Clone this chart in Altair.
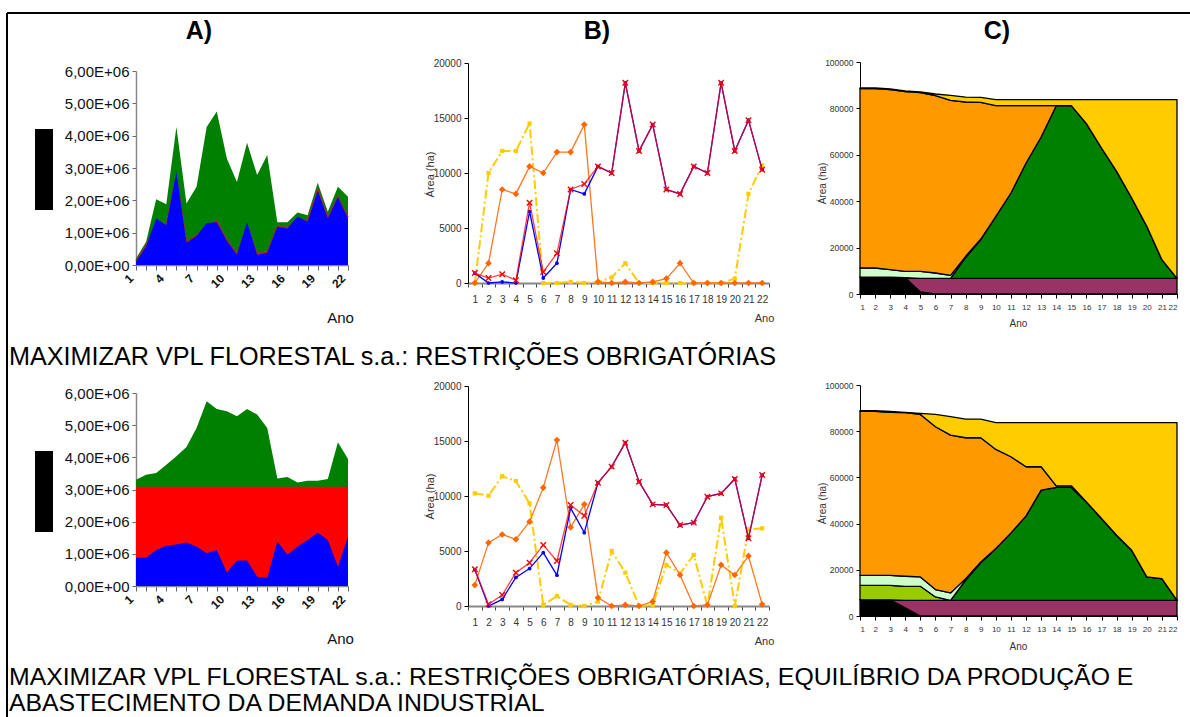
import altair as alt
import pandas as pd

W, H = 1190, 717
anos = list(range(1, 23))

# ---------- A) valores (x 1.000.000) ----------
a1_verde = [0.20, 0.72, 2.03, 1.88, 4.27, 1.90, 2.42, 4.27, 4.75, 3.29, 2.57,
            3.78, 2.78, 3.40, 1.32, 1.32, 1.62, 1.54, 2.54, 1.65, 2.42, 2.11]
a1_vermelho = [0.12, 0.62, 1.32, 1.26, 2.75, 0.72, 0.93, 1.14, 1.38, 0.78, 0.35,
               1.22, 0.36, 0.42, 1.20, 1.16, 1.42, 1.38, 2.36, 1.48, 2.12, 1.48]
a1_azul = [0.10, 0.57, 1.44, 1.23, 2.88, 0.69, 0.90, 1.30, 1.32, 0.75, 0.32,
           1.32, 0.32, 0.38, 1.18, 1.13, 1.50, 1.34, 2.30, 1.44, 2.10, 1.44]

a2_verde = [3.30, 3.46, 3.51, 3.77, 4.03, 4.32, 4.91, 5.74, 5.50, 5.43, 5.28,
            5.50, 5.33, 4.91, 3.34, 3.39, 3.22, 3.27, 3.27, 3.33, 4.47, 3.95]
a2_vermelho = [3.07, 3.07, 3.07, 3.07, 3.07, 3.07, 3.07, 3.07, 3.07, 3.07, 3.07,
               3.07, 3.07, 3.07, 3.07, 3.07, 3.07, 3.07, 3.07, 3.07, 3.07, 3.07]
a2_azul = [0.88, 0.88, 1.12, 1.25, 1.29, 1.35, 1.23, 1.02, 1.12, 0.42, 0.79,
           0.79, 0.29, 0.26, 1.38, 0.97, 1.23, 1.43, 1.66, 1.43, 0.60, 1.54]

# ---------- B) área colhida (ha) ----------
b1_azul = [900, 0, 100, 0, 6500, 450, 1800, 8500, 8100, 10600, 10000,
           18200, 12000, 14400, 8500, 8100, 10600, 10000, 18200, 12000, 14800, 10300]
b1_vermelho = [900, 450, 800, 250, 7300, 1000, 2700, 8500, 9000, 10600, 10000,
               18200, 12000, 14400, 8500, 8100, 10600, 10000, 18200, 12000, 14800, 10300]
b1_laranja = [0, 1800, 8500, 8100, 10600, 10000, 11900, 11900, 14400, 100, 0,
              100, 0, 100, 400, 1800, 0, 0, 0, 0, 0, 0]
b1_amarelo = [0, 10000, 12000, 12000, 14500, 0, 0, 100, 0, 100, 500,
              1800, 0, 0, 0, 0, 0, 0, 0, 400, 8100, 10700]

b2_azul = [3300, 0, 600, 2600, 3400, 4850, 2800, 8900, 6670, 11200, 12670,
           14850, 11300, 9240, 9180, 7360, 7580, 9940, 10240, 11550, 6150, 11900]
b2_vermelho = [3350, 150, 1000, 3030, 3940, 5550, 4090, 9180, 8210, 11200, 12670,
               14850, 11300, 9240, 9180, 7360, 7580, 9940, 10240, 11550, 6150, 11900]
b2_laranja = [1900, 5760, 6500, 6060, 7670, 10760, 15090, 7150, 9240, 760, 0,
              100, 0, 400, 4850, 2820, 0, 100, 3730, 2820, 4550, 150]
b2_amarelo = [10240, 10030, 11800, 11360, 9330, 100, 900, 100, 0, 400, 5000,
              3030, 0, 100, 3730, 2970, 4640, 0, 8030, 0, 6970, 7060]

# ---------- C) área por classe (ha), empilhada ----------
c1_preto = [7300, 7300, 7300, 7000, 900, 0, 0, 0, 0, 0, 0,
            0, 0, 0, 0, 0, 0, 0, 0, 0, 0, 0]
c1_roxo = [0, 0, 0, 0, 5850, 6750, 6750, 6750, 6750, 6750, 6750,
           6750, 6750, 6750, 6750, 6750, 6750, 6750, 6750, 6750, 6750, 6750]
c1_verde = [0, 0, 0, 0, 0, 0, 0, 9000, 16650, 26730, 36780,
            49720, 60920, 74430, 74430, 66670, 56180, 46120, 34630, 22420, 8050, 0]
c1_verde_claro = [3900, 3900, 3200, 2770, 3020, 2300, 1300, 500, 300, 0, 0,
                  0, 0, 0, 0, 0, 0, 0, 0, 0, 0, 0]
c1_laranja = [77300, 77300, 77570, 77440, 77010, 76440, 75430, 66510, 58910, 47700, 37650,
              24710, 13510, 0, 0, 0, 0, 0, 0, 0, 0, 0]
c1_amarelo = [300, 300, 290, 290, 290, 710, 2150, 2140, 2160, 2580, 2580,
              2580, 2580, 2580, 2580, 10340, 20830, 30890, 42380, 54590, 68960, 77010]

c2_preto = [7000, 7000, 7000, 3500, 0, 0, 0, 0, 0, 0, 0,
            0, 0, 0, 0, 0, 0, 0, 0, 0, 0, 0]
c2_roxo = [0, 0, 0, 3300, 6800, 6800, 6800, 6800, 6800, 6800, 6800,
           6800, 6800, 6800, 6800, 6800, 6800, 6800, 6800, 6800, 6800, 6800]
c2_verde = [0, 0, 0, 0, 0, 0, 0, 8780, 16210, 22390, 29180,
            36550, 47680, 48840, 48840, 42620, 35400, 28170, 21670, 10110, 9380, 0]
c2_verde_amarelo = [6290, 6290, 6290, 6060, 6060, 1440, 0, 0, 0, 0, 0,
                    0, 0, 0, 0, 0, 0, 0, 0, 0, 0, 0]
c2_verde_claro = [4340, 4340, 4340, 4340, 4050, 3180, 3170, 600, 400, 0, 0,
                  0, 0, 0, 0, 0, 0, 0, 0, 0, 0, 0]
c2_laranja = [70950, 70950, 70520, 70800, 70370, 70520, 68350, 60990, 53760, 42920, 32950,
              21250, 10120, 720, 720, 0, 0, 0, 0, 0, 0, 0]
c2_amarelo = [290, 290, 430, 150, 440, 5340, 7950, 8090, 8090, 11560, 14740,
              19070, 19070, 27310, 27310, 34250, 41470, 48700, 55200, 66760, 67490, 76870]

SANS = "Liberation Sans, Arial, sans-serif"
NARROW = "Liberation Sans Narrow, Arial Narrow, Liberation Sans, sans-serif"

CLASSES = ["preto", "roxo", "verde", "verde_amarelo", "verde_claro", "laranja", "amarelo"]
CORES_C = ["#000000", "#993366", "#008000", "#99cc00", "#ccffcc", "#ff9900", "#ffcc00"]


def tabela(series, escala=1.0):
    linhas = []
    for nome, vals in series.items():
        for ano, v in zip(anos, vals):
            linhas.append({"Ano": ano, "serie": nome, "valor": v * escala})
    return pd.DataFrame(linhas)


def painel_a(verde, vermelho, azul, y_base, y_top):
    df = tabela({"verde": verde, "vermelho": vermelho, "azul": azul}, 1e6)
    xs = alt.Scale(domain=[1, 22], range=[136, 348], nice=False, zero=False)
    ys = alt.Scale(domain=[0, 6e6], range=[y_base, y_top], nice=False)
    x = alt.X("Ano:Q", scale=xs, axis=alt.Axis(
        orient="bottom", offset=-(H - y_base), values=anos, grid=False, labelOverlap=False,
        labelExpr="(datum.value - 1) % 3 == 0 ? datum.label : ''",
        labelAngle=-45, labelAlign="right", labelBaseline="middle",
        labelFont=SANS, labelFontSize=12, labelFontWeight="bold", labelColor="#111",
        labelPadding=6, labelOffset=-5,
        domainColor="#888888", domainWidth=1.5, tickColor="#666666", tickSize=5,
        title="Ano", titleFont=SANS, titleFontSize=15, titleFontWeight="normal",
        titleColor="#111", titleX=340, titleY=57, titleAlign="center", titleBaseline="alphabetic"))
    y = alt.Y("valor:Q", scale=ys, axis=alt.Axis(
        orient="left", offset=-136, values=[0, 1e6, 2e6, 3e6, 4e6, 5e6, 6e6], grid=False,
        labelExpr="datum.value == 0 ? '0,00E+00' : replace(format(datum.value / 1000000, '.2f'), '.', ',') + 'E+06'",
        labelFont=SANS, labelFontSize=15, labelColor="#111", labelPadding=3,
        domainColor="#888888", domainWidth=1.5, tickColor="#666666", tickSize=4, title=None))
    base = alt.Chart(df).encode(x=x, y=y)
    g = base.transform_filter(alt.datum.serie == "verde").mark_area(color="#008000", opacity=1)
    r = base.transform_filter(alt.datum.serie == "vermelho").mark_area(
        color="#ff0000", opacity=1, fillOpacity=1,
        line={"color": "#8b3a1e", "strokeWidth": 1.4, "opacity": 1})
    b = base.transform_filter(alt.datum.serie == "azul").mark_area(color="#0000ff", opacity=1)
    return alt.layer(g, r, b)


X_SHAPE = "M-1,-1L1,1M-1,1L1,-1"


def painel_b(azul, vermelho, laranja, amarelo, y_base, y_top, titulo_y):
    df = tabela({"azul": azul, "vermelho": vermelho, "laranja": laranja, "amarelo": amarelo})
    xs = alt.Scale(type="band", domain=anos, range=[468, 769], paddingInner=0, paddingOuter=0)
    ys = alt.Scale(domain=[0, 20000], range=[y_base, y_top], nice=False)
    x = alt.X("Ano:O", scale=xs, axis=alt.Axis(
        orient="bottom", offset=-(H - y_base), grid=False, tickBand="extent", labelOverlap=False,
        labelAngle=0, labelFont=NARROW, labelFontSize=10, labelColor="#333", labelPadding=7,
        domainColor="#888888", domainWidth=2, tickColor="#444", tickSize=4,
        title="Ano", titleFont=NARROW, titleFontSize=11, titleFontWeight="normal",
        titleColor="#333", titleX=764, titleY=38, titleAlign="center", titleBaseline="alphabetic"))
    y = alt.Y("valor:Q", scale=ys, axis=alt.Axis(
        orient="left", offset=-468, values=[0, 5000, 10000, 15000, 20000], grid=False, format="d",
        labelFont=NARROW, labelFontSize=10, labelColor="#333", labelPadding=3,
        domainColor="#000", domainWidth=1, tickColor="#000", tickSize=4,
        title="Área (ha)", titleFont=NARROW, titleFontSize=11, titleFontWeight="normal",
        titleColor="#333", titleX=-38, titleY=titulo_y, titleAngle=-90,
        titleAlign="center", titleBaseline="middle"))
    base = alt.Chart(df).encode(x=x, y=y)

    def serie(nome):
        return base.transform_filter(alt.datum.serie == nome)

    am_l = serie("amarelo").mark_line(color="#ffcc00", strokeWidth=2, strokeDash=[9, 3, 2, 3])
    am_p = serie("amarelo").mark_point(shape="square", filled=True, color="#ffcc00", size=18, opacity=1)
    la_l = serie("laranja").mark_line(color="#ff7722", strokeWidth=1.3)
    la_p = serie("laranja").mark_point(shape="diamond", filled=True, color="#ff6600", size=45, opacity=1)
    az_l = serie("azul").mark_line(color="#0000ff", strokeWidth=1.3)
    az_p = serie("azul").mark_point(shape="circle", filled=True, color="#0000ff", size=14, opacity=1)
    ve_l = serie("vermelho").mark_line(color="#ff0000", strokeWidth=1.3, opacity=0.75)
    ve_p = serie("vermelho").mark_point(shape=X_SHAPE, filled=False, color="#ff0000",
                                         size=30, strokeWidth=1.4, opacity=1)
    return alt.layer(am_l, am_p, la_l, la_p, az_l, az_p, ve_l, ve_p)


def painel_c(camadas, y_base, y_top, titulo_y, ano_y):
    linhas = []
    for nome, vals in camadas.items():
        for ano, v in zip(anos, vals):
            linhas.append({"Ano": ano, "serie": nome, "valor": v, "ordem": CLASSES.index(nome)})
    df = pd.DataFrame(linhas)
    xs = alt.Scale(domain=[1, 22], range=[860, 1177], nice=False, zero=False)
    ys = alt.Scale(domain=[0, 100000], range=[y_base, y_top], nice=False)
    x = alt.X("Ano:Q", scale=xs, axis=alt.Axis(
        orient="bottom", offset=-(H - y_base), values=anos, grid=False, labelOverlap=False,
        labelFont=NARROW, labelFontSize=8, labelColor="#333", labelPadding=5,
        domainColor="#000", domainWidth=1, tickColor="#000", tickSize=4,
        title="Ano", titleFont=NARROW, titleFontSize=10, titleFontWeight="normal",
        titleColor="#333", titleX=1018, titleY=ano_y, titleAlign="center", titleBaseline="alphabetic"))
    y = alt.Y("valor:Q", stack="zero", scale=ys, axis=alt.Axis(
        orient="left", offset=-860, values=[0, 20000, 40000, 60000, 80000, 100000], grid=False,
        format="d",
        labelFont=NARROW, labelFontSize=8.5, labelColor="#333", labelPadding=3,
        domainColor="#000", domainWidth=1, tickColor="#000", tickSize=4,
        title="Área (ha)", titleFont=NARROW, titleFontSize=10, titleFontWeight="normal",
        titleColor="#333", titleX=-38, titleY=titulo_y, titleAngle=-90,
        titleAlign="center", titleBaseline="middle"))
    return alt.Chart(df).mark_area(stroke="#000", strokeWidth=1.3, strokeJoin="round", opacity=1).encode(
        x=x, y=y,
        color=alt.Color("serie:N", scale=alt.Scale(domain=CLASSES, range=CORES_C), legend=None),
        order=alt.Order("ordem:Q"),
    )


def texto(t, x, y, size, weight="normal", font=SANS, align="left"):
    return alt.Chart(pd.DataFrame({"t": [t]})).mark_text(
        font=font, fontSize=size, fontWeight=weight, align=align, baseline="alphabetic", color="#000"
    ).encode(text="t:N", x=alt.value(x), y=alt.value(y))


def bloco(x0, x1, y0, y1):
    return alt.Chart(pd.DataFrame({"k": [0]})).mark_rect(color="#000").encode(
        x=alt.value(x0), x2=alt.value(x1), y=alt.value(y0), y2=alt.value(y1))


def regua(x0, x1, y0, y1):
    return alt.Chart(pd.DataFrame({"k": [0]})).mark_rule(color="#000", strokeWidth=2).encode(
        x=alt.value(x0), x2=alt.value(x1), y=alt.value(y0), y2=alt.value(y1))


A1 = painel_a(a1_verde, a1_vermelho, a1_azul, 265, 71)
A2 = painel_a(a2_verde, a2_vermelho, a2_azul, 586, 393)
B1 = painel_b(b1_azul, b1_vermelho, b1_laranja, b1_amarelo, 283, 63, 174)
B2 = painel_b(b2_azul, b2_vermelho, b2_laranja, b2_amarelo, 606, 386, 496)
C1 = painel_c({"preto": c1_preto, "roxo": c1_roxo, "verde": c1_verde, "verde_claro": c1_verde_claro,
               "laranja": c1_laranja, "amarelo": c1_amarelo}, 294, 62, 183, 32)
C2 = painel_c({"preto": c2_preto, "roxo": c2_roxo, "verde": c2_verde, "verde_amarelo": c2_verde_amarelo,
               "verde_claro": c2_verde_claro, "laranja": c2_laranja, "amarelo": c2_amarelo},
              616, 385, 503, 33)

CAP = 24.8
textos = [
    texto("A)", 199, 39, 25, "bold", align="center"),
    texto("B)", 597, 39, 25, "bold", align="center"),
    texto("C)", 997, 39, 25, "bold", align="center"),
    texto("MAXIMIZAR VPL FLORESTAL s.a.: RESTRIÇÕES OBRIGATÓRIAS", 9, 365, 25.2, font=NARROW),
    texto("MAXIMIZAR VPL FLORESTAL s.a.: RESTRIÇÕES OBRIGATÓRIAS, EQUILÍBRIO DA PRODUÇÃO E",
          9, 685, CAP, font=NARROW),
    texto("ABASTECIMENTO DA DEMANDA INDUSTRIAL", 9, 711, CAP, font=NARROW),
]

chart = alt.layer(
    A1, B1, C1, A2, B2, C2,
    bloco(35, 53, 129, 210), bloco(35, 53, 451, 532),
    regua(7, 7, 13, 717), regua(7, 1190, 13, 13),
    *textos,
).resolve_scale(x="independent", y="independent", color="shared").properties(
    width=W, height=H, padding=0, autosize=alt.AutoSizeParams(type="none"), background="white"
).configure_view(strokeWidth=0)

chart.save("out.html", embed_options={"renderer": "svg", "actions": False})
